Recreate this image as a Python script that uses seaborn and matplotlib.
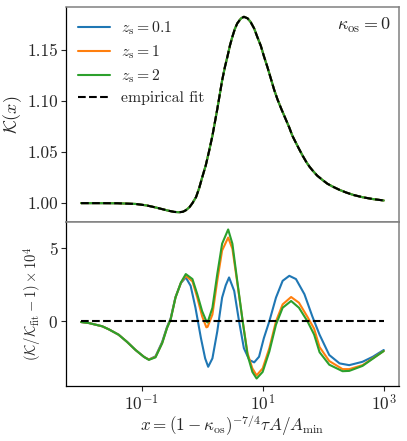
import numpy as np
import matplotlib
matplotlib.use("Agg")
import matplotlib.pyplot as plt
import seaborn as sns
from matplotlib.ticker import NullLocator, FormatStrFormatter

# top panel: K(x) (the three z_s curves sit on the fit at this scale)
logx_top = [-2.0, -1.7, -1.4, -1.1, -0.92, -0.77, -0.65, -0.55, -0.46, -0.38,
            -0.32, -0.27, -0.21, -0.16, -0.10, -0.05, 0.00, 0.06, 0.115, 0.17,
            0.21, 0.25, 0.29, 0.33, 0.375, 0.42, 0.46, 0.50, 0.54, 0.58,
            0.64, 0.69, 0.75, 0.80, 0.86, 0.91, 0.97, 1.02, 1.08, 1.14,
            1.19, 1.245, 1.31, 1.38, 1.44, 1.49, 1.55, 1.60, 1.66, 1.72,
            1.77, 1.82, 1.90, 1.99, 2.07, 2.16, 2.27, 2.38, 2.50, 2.65,
            2.82, 3.0]
k_top = [1.0000, 1.0000, 0.9999, 0.9992, 0.9978, 0.9958, 0.9940, 0.9925, 0.9914, 0.9911,
         0.9915, 0.9930, 0.9960, 1.0000, 1.0060, 1.0145, 1.0250, 1.0370, 1.0510, 1.0660,
         1.0790, 1.0920, 1.1060, 1.1200, 1.1330, 1.1440, 1.1545, 1.1630, 1.1705, 1.1760,
         1.1808, 1.1825, 1.1810, 1.1775, 1.1710, 1.1630, 1.1540, 1.1440, 1.1330, 1.1210,
         1.1110, 1.1016, 1.0920, 1.0823, 1.0740, 1.0661, 1.0590, 1.0532, 1.0465, 1.0404,
         1.0360, 1.0323, 1.0270, 1.0226, 1.0190, 1.0161, 1.0130, 1.0104, 1.0080, 1.0058,
         1.0040, 1.0026]

# bottom panel: (K/K_fit - 1) x 1e4, z_s = 1 and 2
logx_go = [-2.0, -1.87, -1.65, -1.54, -1.38, -1.24, -1.10, -0.96, -0.88, -0.77,
           -0.66, -0.58, -0.52, -0.44, -0.35, -0.27, -0.16, -0.08, 0.0, 0.07,
           0.09, 0.17, 0.25, 0.33, 0.43, 0.50, 0.58, 0.67, 0.75, 0.83,
           0.90, 1.0, 1.11, 1.22, 1.33, 1.47, 1.60, 1.74, 1.85, 1.94,
           2.10, 2.32, 2.43, 2.65, 3.0]
res_green = [-0.05, -0.12, -0.34, -0.55, -0.91, -1.40, -1.95, -2.42, -2.62, -2.45,
             -1.49, -0.46, 0.12, 1.61, 2.64, 3.21, 2.87, 1.84, 0.69, 0.0,
             -0.08, 0.92, 3.21, 5.27, 6.24, 5.27, 2.75, 0.0, -2.29, -3.44,
             -3.89, -3.44, -2.06, -0.23, 0.92, 1.38, 0.92, 0.0, -0.9, -2.1,
             -2.95, -3.39, -3.37, -3.03, -2.02]
res_orange = [-0.05, -0.12, -0.34, -0.55, -0.91, -1.40, -1.95, -2.42, -2.60, -2.42,
              -1.47, -0.44, 0.14, 1.62, 2.62, 3.09, 2.71, 1.61, 0.34, -0.41,
              -0.38, 0.46, 2.75, 4.81, 5.69, 4.93, 2.64, 0.0, -2.17, -3.2,
              -3.67, -3.2, -1.83, 0.0, 1.15, 1.65, 1.26, 0.3, -0.5, -1.75,
              -2.7, -3.25, -3.25, -2.98, -2.02]

# z_s = 0.1
logx_blue = [-2.0, -1.87, -1.65, -1.54, -1.38, -1.24, -1.10, -0.96, -0.88, -0.77,
             -0.66, -0.58, -0.52, -0.44, -0.35, -0.27, -0.19, -0.11, -0.02, 0.05,
             0.10, 0.17, 0.25, 0.33, 0.39, 0.445, 0.53, 0.61, 0.69, 0.78,
             0.86, 0.94, 1.02, 1.11, 1.22, 1.33, 1.44, 1.55, 1.69, 1.82,
             1.94, 2.10, 2.27, 2.43, 2.65, 2.82, 3.0]
res_blue = [-0.05, -0.12, -0.34, -0.55, -0.91, -1.40, -1.95, -2.42, -2.60, -2.38,
            -1.40, -0.38, 0.2, 1.65, 2.6, 2.98, 2.41, 0.92, -1.14, -2.52,
            -3.09, -2.52, -0.69, 1.61, 2.45, 2.98, 2.06, 0.0, -1.83, -2.63,
            -2.79, -2.41, -1.14, 0.0, 1.61, 2.75, 3.09, 2.87, 1.84, 0.34,
            -0.91, -2.29, -2.86, -2.98, -2.75, -2.41, -1.95]

zs_labels = [r"$z_{\rm s}=0.1$", r"$z_{\rm s}=1$", r"$z_{\rm s}=2$"]
colors = ["#1f77b4", "#ff7f0e", "#2ca02c"]

sns.set_theme(style="ticks")
plt.rcParams["font.family"] = "serif"
plt.rcParams["font.serif"] = ["cmr10"]
plt.rcParams["mathtext.fontset"] = "cm"
plt.rcParams["axes.formatter.use_mathtext"] = True
plt.rcParams["axes.unicode_minus"] = False

fig = plt.figure(figsize=(4.07, 4.41), dpi=100)
ax1 = fig.add_axes([0.162, 0.4966, 0.818, 0.4875])
ax2 = fig.add_axes([0.162, 0.1247, 0.818, 0.3719], sharex=ax1)

x_top = 10 ** np.array(logx_top)
for lab, c in zip(zs_labels, colors):
    sns.lineplot(x=x_top, y=k_top, ax=ax1, color=c, lw=1.5, label=lab, sort=False)
sns.lineplot(x=x_top, y=k_top, ax=ax1, color="black", lw=1.5, ls="--",
             label="empirical fit", sort=False)

x_go = 10 ** np.array(logx_go)
x_bl = 10 ** np.array(logx_blue)
sns.lineplot(x=x_bl, y=res_blue, ax=ax2, color=colors[0], lw=1.5, sort=False)
sns.lineplot(x=x_go, y=res_orange, ax=ax2, color=colors[1], lw=1.5, sort=False)
sns.lineplot(x=x_go, y=res_green, ax=ax2, color=colors[2], lw=1.5, sort=False)
sns.lineplot(x=[x_go[0], x_go[-1]], y=[0, 0], ax=ax2, color="black", lw=1.5,
             ls="--", sort=False)

ax1.set_xscale("log")
ax1.set_xticks([0.1, 10, 1000])
ax1.xaxis.set_minor_locator(NullLocator())
ax2.xaxis.set_minor_locator(NullLocator())
ax2.set_xticklabels([r"$10^{-1}$", r"$10^{1}$", r"$10^{3}$"])
ax1.tick_params(axis="x", labelbottom=False)

ax1.set_yticks([1.00, 1.05, 1.10, 1.15])
ax1.yaxis.set_major_formatter(FormatStrFormatter("%.2f"))
ax2.set_yticks([0, 5])

for ax in (ax1, ax2):
    ax.tick_params(direction="out", length=3.5, width=0.8, labelsize=12.5, pad=2)
    for s in ("top", "right", "bottom"):
        ax.spines[s].set_color("#808080")
        ax.spines[s].set_linewidth(1.1)
    ax.spines["left"].set_color("black")
    ax.spines["left"].set_linewidth(0.9)
ax2.spines["bottom"].set_color("black")
ax2.spines["bottom"].set_linewidth(0.9)

ax1.set_ylabel(r"$\mathcal{K}(x)$", fontsize=13)
ax1.yaxis.set_label_coords(-0.125, 0.5)
ax2.set_ylabel(r"$(\mathcal{K}/\mathcal{K}_{\rm fit}-1)\times 10^4$", fontsize=10.5)
ax2.yaxis.set_label_coords(-0.069, 0.5)
ax2.set_xlabel(r"$x=(1-\kappa_{\rm os})^{-7/4}\tau A/A_{\rm min}$", fontsize=12.3)
ax2.xaxis.set_label_coords(0.5, -0.165)
ax1.set_xlabel("")

ax1.text(0.975, 0.915, r"$\kappa_{\rm os}=0$", transform=ax1.transAxes,
         ha="right", va="center", fontsize=13)
ax1.legend(loc="upper left", frameon=False, fontsize=11.3, handlelength=2.0,
           handletextpad=0.7, borderaxespad=0.4, labelspacing=0.4)
if ax2.get_legend() is not None:
    ax2.get_legend().remove()

fig.savefig("out.png", dpi=100)
